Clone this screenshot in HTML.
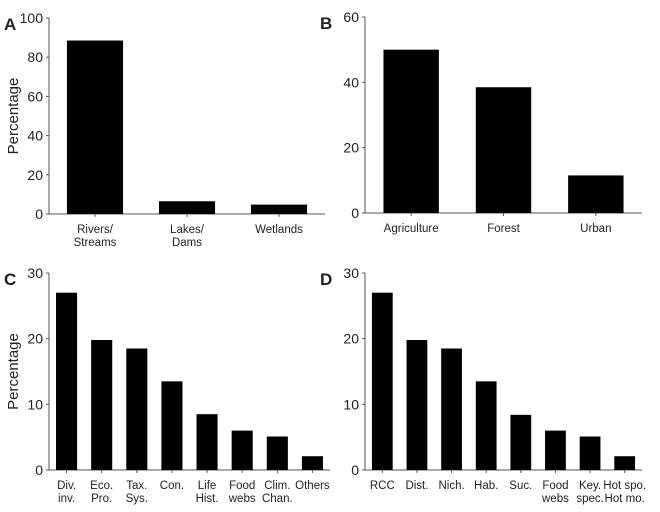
<!DOCTYPE html>
<html><head><meta charset="utf-8"><style>
body{margin:0;background:#fff;}
svg text{font-family:"Liberation Sans",sans-serif;fill:#222;}
</style></head><body>
<svg id="chart" width="660" height="507" xmlns="http://www.w3.org/2000/svg"></svg>
<script>
const catsA=[["Rivers/","Streams"],["Lakes/","Dams"],["Wetlands"]];
const valsA=[88.5,6.5,4.8];
const ticksA=[0,20,40,60,80,100];
const catsB=[["Agriculture"],["Forest"],["Urban"]];
const valsB=[50,38.5,11.5];
const ticksB=[0,20,40,60];
const catsC=[["Div.","inv."],["Eco.","Pro."],["Tax.","Sys."],["Con."],["Life","Hist."],["Food","webs"],["Clim.","Chan."],["Others"]];
const valsC=[27,19.8,18.5,13.5,8.5,6,5.1,2.1];
const ticksC=[0,10,20,30];
const catsD=[["RCC"],["Dist."],["Nich."],["Hab."],["Suc."],["Food","webs"],["Key.","spec."],["Hot spo.","Hot mo."]];
const valsD=[27,19.8,18.5,13.5,8.4,6,5.1,2.1];
const ticksD=[0,10,20,30];

const svg=document.getElementById('chart');
const NS='http://www.w3.org/2000/svg';
function mk(t,a,p){const e=document.createElementNS(NS,t);for(const k in a)e.setAttribute(k,a[k]);(p||svg).appendChild(e);return e;}

function panel(id,letter,cats,vals,ticks,ax,x1,top,y0,barFrac,ytitle){
  const g=mk('g',{});
  
  
  const ymax=ticks[ticks.length-1];
  const y=v=>y0-(y0-top)*v/ymax;
  const band=(x1-ax)/cats.length;
  const bw=band*barFrac;
  const lt=mk('text',{x:ax-45,y:top+12,'font-size':17,'font-weight':'bold'},g);
  lt.textContent=letter;
  
  
  const yaxis=mk('line',{x1:ax,y1:top,x2:ax,y2:y0,stroke:'#555','stroke-width':1},g);
  
  
  const xaxis=mk('line',{x1:ax,y1:y0,x2:x1,y2:y0,stroke:'#555','stroke-width':1},g);
  
  
  ticks.forEach(t=>{
    mk('line',{x1:ax-3,y1:y(t),x2:ax,y2:y(t),stroke:'#555'},g);
    const tx=mk('text',{x:ax-6,y:y(t)+5,'font-size':14,'text-anchor':'end'},g);
    tx.textContent=t;
    
    
  });
  cats.forEach((c,i)=>{
    const cx=ax+band*(i+0.5);
    mk('line',{x1:cx,y1:y0,x2:cx,y2:y0+3,stroke:'#555'},g);
    const r=mk('rect',{x:cx-bw/2,y:y(vals[i]),width:bw,height:y0-y(vals[i]),fill:'#000'},g);
    
    
    c.forEach((line,j)=>{
      const tx=mk('text',{x:cx,y:y0+19+j*13,'font-size':11.5,'text-anchor':'middle'},g);
      tx.textContent=line;
      
      
    });
  });
  if(ytitle){
    const cy=(top+y0)/2;
    const tt=mk('text',{x:0,y:0,'font-size':15,'text-anchor':'middle',transform:`translate(18,${cy}) rotate(-90)`},g);
    tt.textContent='Percentage';
    
    
  }
}
panel('a','A',catsA,valsA,ticksA,49,325,18,214,0.61,true);
panel('b','B',catsB,valsB,ticksB,365,642,17,213,0.6,false);
panel('c','C',catsC,valsC,ticksC,49,330,273,470,0.6,true);
panel('d','D',catsD,valsD,ticksD,365,642,273,470,0.6,false);
</script>
</body></html>
